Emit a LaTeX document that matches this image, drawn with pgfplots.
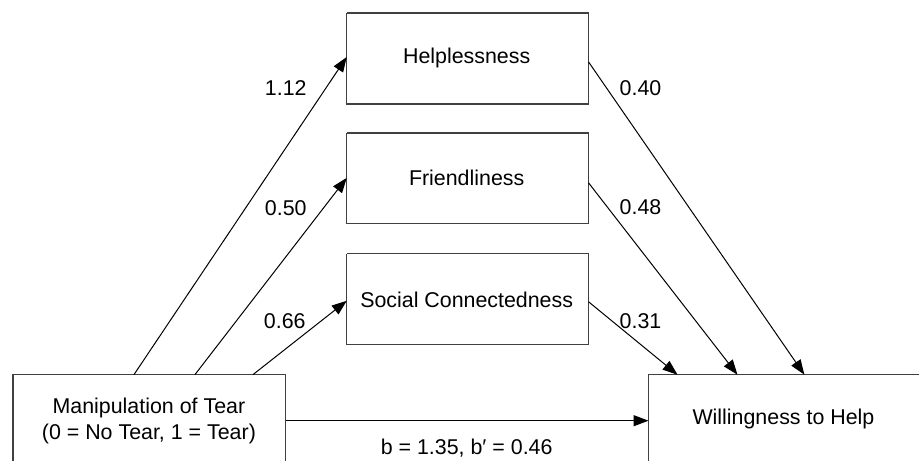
\documentclass[border=0pt]{standalone}
\usepackage{pgfplots}
\pgfplotsset{compat=1.18}
\usepackage{fontspec}
\setmainfont{Liberation Sans}
\usetikzlibrary{arrows.meta}
\definecolor{boxc}{HTML}{404040}
\definecolor{txt}{HTML}{1A1A1A}
\begin{document}
\fontsize{10.7}{12.8}\selectfont
\begin{tikzpicture}
\begin{axis}[
  x=0.5pt, y=0.5pt, y dir=reverse,
  xmin=0, xmax=920, ymin=0, ymax=461,
  hide axis, clip=false, scale only axis,
  every node/.append style={text=txt, font=\fontsize{10.7}{12.8}\selectfont},
  ]
% bounding area
\addplot[draw=none, forget plot] coordinates {(0,0) (920,461)};
% boxes
\addplot[boxc, line width=0.65pt] coordinates {(347,13) (589,13) (589,104) (347,104) (347,13)};
\addplot[boxc, line width=0.65pt] coordinates {(347,133) (589,133) (589,224) (347,224) (347,133)};
\addplot[boxc, line width=0.65pt] coordinates {(347,254) (589,254) (589,345) (347,345) (347,254)};
\addplot[boxc, line width=0.65pt] coordinates {(13,461) (13,375) (286,375) (286,461)};
\addplot[boxc, line width=0.65pt] coordinates {(920,375) (649,375) (649,461)};
% arrows
\addplot[black, line width=0.5pt, -{Triangle[length=7.5pt,width=5.5pt]}] coordinates {(134,375) (347,57)};
\addplot[black, line width=0.5pt, -{Triangle[length=7.5pt,width=5.5pt]}] coordinates {(195,375) (347,178)};
\addplot[black, line width=0.5pt, -{Triangle[length=7.5pt,width=5.5pt]}] coordinates {(253,375) (347,301)};
\addplot[black, line width=0.5pt, -{Triangle[length=7.5pt,width=5.5pt]}] coordinates {(589,62) (805,375)};
\addplot[black, line width=0.5pt, -{Triangle[length=7.5pt,width=5.5pt]}] coordinates {(589,183) (738,375)};
\addplot[black, line width=0.5pt, -{Triangle[length=7.5pt,width=5.5pt]}] coordinates {(589,302) (678,375)};
\addplot[black, line width=0.5pt, -{Triangle[length=7.5pt,width=5.5pt]}] coordinates {(286,421) (649,421)};
% box texts
\node at (axis cs:467,58) {Helplessness};
\node at (axis cs:467,178) {Friendliness};
\node at (axis cs:467,300) {Social Connectedness};
\node[align=center] at (axis cs:149,421) {Manipulation of Tear\\(0 = No Tear, 1 = Tear)};
\node at (axis cs:784,419) {Willingness to Help};
% coefficients
\node at (axis cs:286,88) {1.12};
\node at (axis cs:286,208) {0.50};
\node at (axis cs:285,321) {0.66};
\node at (axis cs:641,88) {0.40};
\node at (axis cs:641,207) {0.48};
\node at (axis cs:641,321) {0.31};
\node at (axis cs:467,448) {b = 1.35, b′ = 0.46};
\end{axis}
\end{tikzpicture}
\end{document}
